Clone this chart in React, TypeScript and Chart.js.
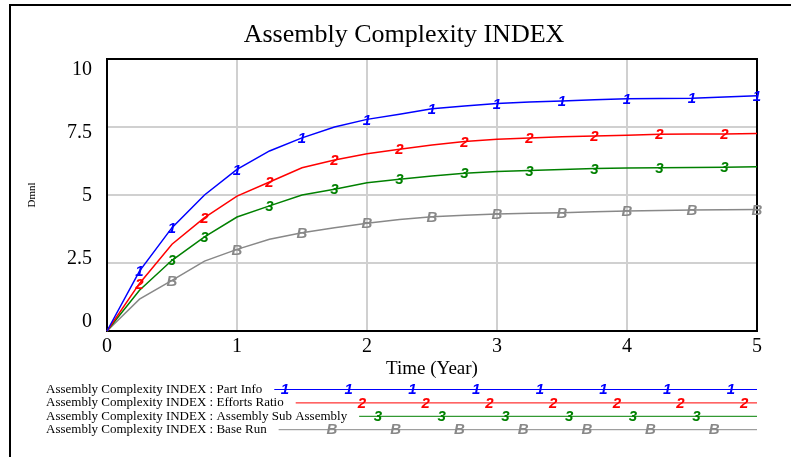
import React, { useEffect, useRef } from "react";
import { Chart, registerables } from "chart.js";

Chart.register(...registerables);

// ---- data ----
const TIMES = [0, 0.25, 0.5, 0.75, 1, 1.25, 1.5, 1.75, 2, 2.25, 2.5, 2.75, 3, 3.25, 3.5, 3.75, 4, 4.25, 4.5, 4.75, 5];
const PART_INFO = [0, 2.2, 3.8, 5.0, 5.94, 6.62, 7.1, 7.5, 7.78, 7.97, 8.17, 8.27, 8.36, 8.42, 8.46, 8.5, 8.54, 8.55, 8.56, 8.6, 8.65];
const EFFORTS_RATIO = [0, 1.75, 3.19, 4.17, 4.96, 5.48, 6.0, 6.29, 6.52, 6.68, 6.84, 6.97, 7.05, 7.1, 7.14, 7.17, 7.2, 7.23, 7.24, 7.24, 7.26];
const SUB_ASSEMBLY = [0, 1.5, 2.6, 3.46, 4.19, 4.6, 5.0, 5.21, 5.45, 5.58, 5.7, 5.8, 5.86, 5.9, 5.94, 5.97, 5.99, 6.0, 6.01, 6.02, 6.04];
const BASE_RUN = [0, 1.17, 1.86, 2.57, 3.0, 3.37, 3.61, 3.8, 3.96, 4.1, 4.2, 4.26, 4.3, 4.33, 4.35, 4.38, 4.41, 4.43, 4.45, 4.46, 4.47];

const SERIES_LABELS = [
  "Assembly Complexity INDEX : Part Info",
  "Assembly Complexity INDEX : Efforts Ratio",
  "Assembly Complexity INDEX : Assembly Sub Assembly",
  "Assembly Complexity INDEX : Base Run",
];
const MARKER_CHARS = ["1", "2", "3", "B"];
const MARKER_TIMES_PART = [0.25, 0.5, 1, 1.5, 2, 2.5, 3, 3.5, 4, 4.5, 5];
const MARKER_TIMES_EFFORTS = [0.25, 0.75, 1.25, 1.75, 2.25, 2.75, 3.25, 3.75, 4.25, 4.75];
const MARKER_TIMES_SUB = [0.5, 0.75, 1.25, 1.75, 2.25, 2.75, 3.25, 3.75, 4.25, 4.75];
const MARKER_TIMES_BASE = [0.5, 1, 1.5, 2, 2.5, 3, 3.5, 4, 4.5, 5];

const X_TICKS = [0, 1, 2, 3, 4, 5];
const Y_TICKS = [0, 2.5, 5, 7.5, 10];

const TITLE = "Assembly Complexity INDEX";
const X_TITLE = "Time (Year)";
const Y_TITLE = "Dmnl";

// ---- styles ----
const COLORS = ["#0000ff", "#ff0000", "#008000", "#888888"];
const SERIF = "'Liberation Serif', 'Times New Roman', serif";
const MARK_FONT = "italic bold 15px 'Liberation Sans', Arial, sans-serif";
const LEGEND_PHASE = [285, 298.3, 314.3, 268.3];
const LEGEND_STEP = 63.7;

const vensimPlugin = {
  id: "vensim",
  beforeDraw(chart: any) {
    const ctx = chart.ctx;
    ctx.save();
    ctx.fillStyle = "#ffffff";
    ctx.fillRect(0, 0, chart.width, chart.height);
    // outer frame
    ctx.strokeStyle = "#000";
    ctx.lineWidth = 2;
    ctx.strokeRect(10, 5, 1000, 1000);
    // title
    ctx.fillStyle = "#000";
    ctx.font = `26px ${SERIF}`;
    ctx.textAlign = "center";
    ctx.textBaseline = "alphabetic";
    ctx.fillText(TITLE, 404, 42);
    ctx.restore();
  },
  beforeDatasetsDraw(chart: any) {
    const { ctx, chartArea } = chart;
    ctx.save();
    ctx.strokeStyle = "#000";
    ctx.lineWidth = 2;
    ctx.strokeRect(chartArea.left, chartArea.top, chartArea.right - chartArea.left, chartArea.bottom - chartArea.top);
    ctx.restore();
  },
  afterDatasetsDraw(chart: any) {
    const ctx = chart.ctx;
    ctx.save();
    ctx.font = MARK_FONT;
    ctx.textAlign = "center";
    ctx.textBaseline = "middle";
    chart.data.datasets.forEach((ds: any, i: number) => {
      const meta = chart.getDatasetMeta(i);
      ctx.fillStyle = ds.borderColor;
      ds.markerIdx.forEach((idx: number) => {
        const pt = meta.data[idx];
        if (pt) ctx.fillText(ds.markerChar, pt.x, pt.y + 1);
      });
    });
    ctx.restore();
  },
  afterDraw(chart: any) {
    const ctx = chart.ctx;
    const right = chart.chartArea.right;
    ctx.save();
    chart.data.datasets.forEach((ds: any, i: number) => {
      const base = 393 + i * 13.4;
      ctx.font = `13px ${SERIF}`;
      ctx.fillStyle = "#000";
      ctx.textAlign = "left";
      ctx.textBaseline = "alphabetic";
      ctx.fillText(ds.label, 46, base);
      const start = 46 + ctx.measureText(ds.label).width + 12;
      const ly = base - 4;
      ctx.strokeStyle = ds.borderColor;
      ctx.lineWidth = 1;
      ctx.beginPath();
      ctx.moveTo(start, ly + 0.5);
      ctx.lineTo(right, ly + 0.5);
      ctx.stroke();
      ctx.font = MARK_FONT;
      ctx.fillStyle = ds.borderColor;
      ctx.textAlign = "center";
      ctx.textBaseline = "middle";
      for (let x = LEGEND_PHASE[i]; x <= right; x += LEGEND_STEP) {
        if (x >= start + 5) ctx.fillText(ds.markerChar, x, ly + 1);
      }
    });
    ctx.restore();
  },
};

function idxOf(times: number[]) {
  return times.map((t) => TIMES.indexOf(t));
}

export default function App() {
  const ref = useRef<HTMLCanvasElement | null>(null);
  useEffect(() => {
    if (!ref.current) return;
    const seriesValues = [PART_INFO, EFFORTS_RATIO, SUB_ASSEMBLY, BASE_RUN];
    const markerTimes = [MARKER_TIMES_PART, MARKER_TIMES_EFFORTS, MARKER_TIMES_SUB, MARKER_TIMES_BASE];
    const datasets: any[] = seriesValues.map((vals, i) => ({
      label: SERIES_LABELS[i],
      data: vals.map((v, j) => ({ x: TIMES[j], y: v })),
      borderColor: COLORS[i],
      backgroundColor: COLORS[i],
      borderWidth: 1.5,
      pointRadius: 0,
      tension: 0,
      fill: false,
      clip: false,
      markerChar: MARKER_CHARS[i],
      markerIdx: idxOf(markerTimes[i]),
    }));
    const gridColor = "#d0d0d0";
    const chart = new Chart(ref.current, {
      type: "line",
      data: { datasets },
      plugins: [vensimPlugin],
      options: {
        animation: false,
        responsive: false,
        devicePixelRatio: 1,
        layout: { padding: { left: 22, right: 34, top: 59, bottom: 77 } },
        plugins: { legend: { display: false }, title: { display: false }, tooltip: { enabled: false } },
        scales: {
          x: {
            type: "linear",
            min: 0,
            max: 5,
            afterBuildTicks: (s: any) => {
              s.ticks = X_TICKS.map((v) => ({ value: v }));
            },
            afterFit: (s: any) => {
              s.height = 49;
            },
            grid: { color: gridColor, lineWidth: 2, drawTicks: false },
            border: { display: true, color: "#000", width: 2 },
            ticks: { color: "#000", font: { family: SERIF, size: 20 }, padding: 4, callback: (v: any) => String(v) },
            title: { display: true, text: X_TITLE, color: "#000", font: { family: SERIF, size: 19 }, padding: { top: 0, bottom: 0 } },
          },
          y: {
            type: "linear",
            position: "left",
            min: 0,
            max: 10,
            weight: 0,
            afterBuildTicks: (s: any) => {
              s.ticks = Y_TICKS.map((v) => ({ value: v }));
            },
            afterFit: (s: any) => {
              s.width = 0;
            },
            grid: { color: gridColor, lineWidth: 2, drawTicks: false },
            border: { display: true, color: "#000", width: 2 },
            ticks: { display: false },
          },
          yl: {
            type: "linear",
            position: "left",
            min: -0.357,
            max: 10.437,
            weight: 10,
            afterBuildTicks: (s: any) => {
              s.ticks = Y_TICKS.map((v) => ({ value: v }));
            },
            afterFit: (s: any) => {
              s.width = 85;
            },
            grid: { display: false, drawTicks: false },
            border: { display: false },
            ticks: { color: "#000", font: { family: SERIF, size: 20 }, padding: 15, callback: (v: any) => String(v) },
            title: { display: true, text: Y_TITLE, color: "#000", font: { family: SERIF, size: 11 }, padding: { top: 4, bottom: 0 } },
          },
        },
      } as any,
    });
    return () => chart.destroy();
  }, []);
  return (
    <div style={{ position: "absolute", left: 0, top: 0, width: 791, height: 457 }}>
      <canvas ref={ref} width={791} height={457} style={{ width: 791, height: 457, display: "block" }} />
    </div>
  );
}
